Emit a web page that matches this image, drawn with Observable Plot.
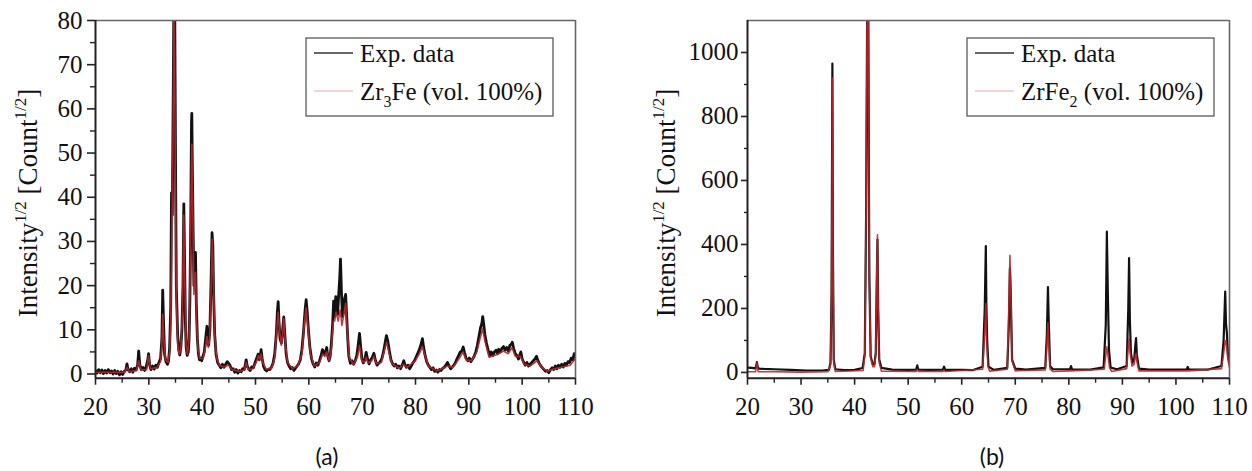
<!DOCTYPE html>
<html>
<head>
<meta charset="utf-8">
<script src="https://cdn.jsdelivr.net/npm/d3@7"></script>
<script src="https://cdn.jsdelivr.net/npm/@observablehq/plot@0.6"></script>
<style>
  html, body { margin: 0; padding: 0; background: #fff; }
  #wrap { position: relative; width: 1252px; height: 471px; overflow: hidden; }
  .panel { position: absolute; top: 0; }
  .panel svg, .panel svg text { font-family: "Liberation Serif", serif !important; }
  .cap { position: absolute; font-family: Lato, "Open Sans", sans-serif; font-size: 23px; color: #111; transform: translate(-50%, -50%); }
</style>
</head>
<body>
<div id="wrap">
  <div class="panel" id="pa" style="left:0px"></div>
  <div class="panel" id="pb" style="left:626px"></div>
  <div class="cap" style="left:327px; top:456px">(a)</div>
  <div class="cap" style="left:992px; top:456px">(b)</div>
</div>
<script>
// ---------- data (2θ, sqrt-intensity) ----------
const xTicks = [20, 30, 40, 50, 60, 70, 80, 90, 100, 110];
const xMinor = [25, 35, 45, 55, 65, 75, 85, 95, 105];
const yTicksA = [0, 10, 20, 30, 40, 50, 60, 70, 80];
const yMinorA = [5, 15, 25, 35, 45, 55, 65, 75];
const yTicksB = [0, 200, 400, 600, 800, 1000];
const yMinorB = [100, 300, 500, 700, 900];

const legendA = ["Exp. data", "Zr", "3", "Fe (vol. 100%)"];
const legendB = ["Exp. data", "ZrFe", "2", " (vol. 100%)"];

// Panel (a): Zr3Fe – experimental
const expA = [
[20.0,0.8],[20.3,0.2],[20.6,1.0],[20.9,0.3],[21.2,0.9],[21.5,0.1],[21.8,0.8],[22.1,0.2],[22.4,1.0],[22.7,0.3],
[23.0,0.7],[23.3,0.0],[23.6,0.8],[23.9,0.1],[24.2,0.6],[24.5,-0.2],[24.8,0.5],[25.1,-0.1],[25.4,0.6],[25.7,0.9],
[25.9,2.3],[26.1,1.0],[26.4,0.5],[26.7,1.2],[27.0,0.4],[27.3,1.3],[27.6,0.9],[27.9,2.0],[28.1,5.2],[28.3,2.2],
[28.6,1.0],[28.9,1.5],[29.2,0.8],[29.5,1.6],[29.8,3.2],[29.95,4.6],[30.15,2.0],[30.4,1.0],[30.7,1.8],[31.0,1.1],
[31.3,2.0],[31.6,1.5],[31.9,2.6],[32.2,3.5],[32.45,8.0],[32.6,19.0],[32.75,12.0],[32.95,4.5],[33.2,2.8],[33.5,2.2],
[33.7,3.0],[33.9,6.0],[34.1,15.0],[34.25,41.0],[34.4,36.0],[34.55,60],[34.7,85],[34.85,85],[35.0,50],[35.15,20],
[35.4,9],[35.6,5.5],[35.8,4.3],[36.0,6.0],[36.2,10],[36.4,20],[36.56,38.5],[36.7,26],[36.85,12],[37.0,6],
[37.2,4.2],[37.4,5.0],[37.55,8],[37.7,17],[37.85,33],[38.0,57],[38.06,59],[38.15,48],[38.3,33],[38.45,20],
[38.6,25],[38.75,27.5],[38.9,16],[39.1,8],[39.3,4.5],[39.5,3.2],[39.7,3.5],[39.9,3.0],[40.1,3.8],[40.4,5],
[40.7,8.5],[40.9,10.8],[41.05,7],[41.2,6.5],[41.45,10],[41.65,20],[41.85,32],[42.0,29],[42.15,18],[42.35,9],
[42.6,4.5],[42.9,2.6],[43.2,2.0],[43.5,1.4],[43.8,2.2],[44.1,1.5],[44.4,2.2],[44.7,2.8],[44.95,2.4],[45.2,2.0],
[45.5,1.0],[45.8,1.2],[46.1,0.4],[46.4,1.0],[46.7,0.2],[47.0,0.8],[47.3,0.5],[47.6,1.2],[47.9,1.0],[48.1,2.2],
[48.25,3.2],[48.45,1.8],[48.7,1.2],[49.0,0.8],[49.3,1.6],[49.6,1.4],[49.9,2.5],[50.2,3.5],[50.5,4.5],[50.7,3.2],
[50.9,4.0],[51.05,5.5],[51.25,3.5],[51.5,1.8],[51.8,1.0],[52.1,0.7],[52.4,1.1],[52.7,1.0],[53.0,1.6],[53.3,2.5],
[53.6,4.5],[53.9,9],[54.1,14],[54.25,16.4],[54.4,12],[54.6,8],[54.85,7],[55.05,9.5],[55.3,12.9],[55.5,9],
[55.75,4.5],[56.0,2.6],[56.3,1.8],[56.6,1.2],[56.9,1.5],[57.2,0.8],[57.5,1.3],[57.8,1.8],[58.1,2.3],[58.4,3.2],
[58.7,5.5],[59.0,9.5],[59.3,14.5],[59.5,16.8],[59.7,14],[59.95,9.5],[60.2,6],[60.5,3.5],[60.8,2.3],[61.1,1.6],
[61.4,2.5],[61.7,2.0],[62.0,3.0],[62.3,4.2],[62.55,5.5],[62.75,5.0],[62.95,4.4],[63.15,5.0],[63.35,6.0],[63.55,4.0],
[63.8,3.0],[64.0,4.0],[64.2,6.5],[64.45,11],[64.65,16.5],[64.85,13],[65.05,17.5],[65.2,15],[65.4,13.5],[65.6,18],
[65.8,22],[65.94,26],[66.1,19],[66.3,13],[66.5,14],[66.7,17],[66.9,18],[67.1,13],[67.3,8],[67.5,4],
[67.8,2.4],[68.1,3.0],[68.4,2.2],[68.7,3.0],[69.0,4.2],[69.25,6.5],[69.5,9.2],[69.7,6.5],[69.95,3.5],[70.2,2.5],
[70.5,3.2],[70.75,4.9],[71.0,3.4],[71.3,2.3],[71.6,3.2],[71.9,3.8],[72.2,4.7],[72.5,3.0],[72.8,2.0],[73.1,2.4],
[73.4,2.8],[73.7,3.5],[74.0,5],[74.3,7],[74.55,8.7],[74.8,7.5],[75.1,5.2],[75.4,3.2],[75.7,2.3],[76.0,1.8],
[76.3,2.2],[76.6,1.4],[76.9,1.8],[77.2,1.2],[77.5,2.0],[77.8,3.0],[78.0,2.2],[78.3,1.5],[78.6,2.0],[78.9,1.2],
[79.2,1.8],[79.5,2.5],[79.8,3.0],[80.1,3.8],[80.4,4.6],[80.7,5.5],[81.0,6.5],[81.3,8.0],[81.5,6.2],[81.8,4.2],
[82.1,2.8],[82.4,2.0],[82.7,1.5],[83.0,1.0],[83.3,1.4],[83.6,0.6],[83.9,0.9],[84.2,0.4],[84.5,1.0],[84.8,0.8],
[85.1,1.3],[85.4,1.5],[85.7,2.0],[86.0,2.6],[86.3,1.8],[86.6,1.2],[86.9,1.6],[87.2,2.0],[87.5,2.6],[87.8,3.5],
[88.1,4.2],[88.4,5.0],[88.7,5.2],[88.95,6.1],[89.2,4.8],[89.5,3.5],[89.8,3.0],[90.1,3.6],[90.4,2.8],[90.7,3.4],
[91.0,4.0],[91.3,5.0],[91.6,6.5],[91.9,8.5],[92.2,10.5],[92.45,11.5],[92.6,13.0],[92.8,11.2],[93.0,9.0],[93.3,7.0],
[93.6,5.5],[93.9,4.2],[94.2,5.0],[94.5,4.2],[94.8,5.0],[95.1,5.4],[95.4,4.6],[95.6,5.6],[95.9,5.0],[96.2,5.8],
[96.5,6.2],[96.8,5.4],[97.1,6.0],[97.4,5.2],[97.7,6.5],[98.0,6.8],[98.15,7.2],[98.4,5.8],[98.7,4.6],[99.0,4.2],
[99.3,3.4],[99.6,4.5],[99.75,5.0],[100.0,3.4],[100.3,2.6],[100.6,2.0],[100.9,2.6],[101.2,1.8],[101.5,2.2],[101.8,2.6],
[102.1,3.0],[102.4,3.4],[102.7,4.0],[102.9,3.2],[103.2,2.4],[103.5,1.8],[103.8,1.4],[104.1,1.0],[104.4,0.6],[104.7,0.8],
[105.0,0.3],[105.3,1.0],[105.6,1.4],[105.9,1.0],[106.2,1.8],[106.5,1.2],[106.8,2.0],[107.1,1.5],[107.4,2.2],[107.7,1.6],
[108.0,2.4],[108.3,2.0],[108.6,2.8],[108.9,2.6],[109.2,3.6],[109.5,3.2],[109.75,4.6],[110.0,4.0]
];

// Panel (a): Zr3Fe – calculated profile
const calcA = [
[20,0.4],[25.5,0.4],[25.9,1.5],[26.3,0.5],[27.7,0.8],[28.1,3.0],[28.5,0.9],[29.6,1.0],[29.95,4.2],[30.3,1.2],
[31.5,1.5],[32.2,2.8],[32.45,7],[32.6,13.5],[32.8,8],[33.1,3.2],[33.6,2.6],[33.9,5],[34.1,12],[34.3,30],
[34.55,55],[34.75,88],[34.95,50],[35.15,18],[35.4,7],[35.7,4.5],[36.0,5.5],[36.3,14],[36.56,36],[36.75,20],
[37.0,6.5],[37.25,4.5],[37.55,8],[37.8,28],[38.06,52],[38.25,36],[38.45,18],[38.6,21],[38.75,23],[38.95,12],
[39.2,5.5],[39.6,3.5],[40.2,3.5],[40.6,6],[40.9,8.5],[41.15,6],[41.4,8],[41.65,18],[41.9,30.5],[42.1,22],
[42.35,9],[42.7,3.8],[43.2,2.0],[44.0,1.6],[44.95,2.0],[45.6,1.0],[47.0,0.6],[47.9,0.9],[48.25,2.6],[48.6,1.0],
[49.5,1.2],[50.2,2.8],[50.55,4.2],[50.8,3.2],[51.05,4.5],[51.4,2.5],[52.0,1.1],[53.0,1.3],[53.6,3.6],[54.0,10],
[54.25,14],[54.5,10],[54.85,6.5],[55.1,9],[55.3,12.5],[55.6,7],[56.0,2.6],[57.0,1.2],[58.0,2.0],[58.7,4.5],
[59.2,12],[59.5,15],[59.8,11],[60.3,4.5],[61.0,1.8],[62.0,2.6],[62.6,4.5],[63.0,4.0],[63.35,5.0],[63.8,3.0],
[64.2,5.5],[64.6,12],[64.85,12],[65.1,14],[65.5,12],[65.9,14.5],[66.2,11],[66.5,13],[66.9,16],[67.2,10],
[67.6,3.5],[68.4,2.2],[69.1,3.8],[69.5,6.5],[69.9,3.2],[70.4,2.5],[70.75,3.8],[71.1,2.5],[71.8,3.0],[72.2,4.0],
[72.7,2.3],[73.6,2.6],[74.2,5.5],[74.6,7.2],[75.0,5.0],[75.6,2.3],[77.0,1.3],[77.8,2.2],[78.4,1.5],[80.0,3.0],
[80.8,4.8],[81.3,6.2],[81.7,4.5],[82.4,1.8],[84.0,0.7],[86.0,1.8],[87.0,1.5],[88.2,3.5],[88.9,5.0],[89.5,3.2],
[90.5,3.0],[91.5,5.0],[92.2,8.5],[92.6,10.2],[93.0,7.5],[93.8,3.8],[94.8,4.2],[95.6,4.6],[96.5,5.2],[97.4,4.6],
[98.1,6.0],[98.7,4.0],[99.7,4.0],[100.4,2.2],[101.5,1.8],[102.8,3.0],[103.6,1.6],[104.7,0.6],[106.0,1.2],[107.5,1.6],
[109.0,2.0],[110,3.5]
];

// Panel (b): ZrFe2 – experimental
const expB = [
[20.0,15],[20.8,14],[21.4,13],[21.6,18],[21.75,32],[21.9,18],[22.1,12],[23,11],[25,10],[28,8],
[31,6],[34,6],[35.2,8],[35.5,30],[35.7,250],[35.85,965],[35.95,400],[36.1,40],[36.4,10],[38,7],
[40,8],[41.5,14],[41.9,60],[42.15,500],[42.35,1150],[42.55,1150],[42.75,300],[43.0,50],[43.4,25],[43.7,25],
[43.95,60],[44.15,300],[44.27,415],[44.4,200],[44.6,40],[45,14],[47,9],[50,8],[51.5,9],[51.7,22],
[51.9,9],[54,8],[56.5,9],[56.7,18],[56.9,8],[60,8],[62,7],[63.9,18],[64.3,200],[64.5,395],
[64.6,215],[64.75,100],[65.0,18],[66,8],[68.5,14],[68.8,150],[69.0,325],[69.15,250],[69.4,40],[70,12],
[72,9],[75.6,14],[75.9,120],[76.1,267],[76.25,160],[76.5,20],[77,10],[80.2,10],[80.4,20],[80.6,10],
[84,9],[86.5,16],[86.9,150],[87.1,440],[87.3,230],[87.5,70],[87.8,15],[89,10],[90.8,20],[91.1,200],
[91.25,357],[91.4,162],[91.6,60],[91.9,30],[92.2,40],[92.45,90],[92.55,107],[92.7,55],[93.1,12],[95,9],
[100,9],[102,10],[102.2,17],[102.4,10],[106,9],[108.5,20],[108.9,100],[109.2,253],[109.35,150],[109.5,126],
[109.7,60],[110,25]
];

// Panel (b): ZrFe2 – calculated profile
const calcB = [
[20,2],[21.5,2],[21.75,30],[22.0,2],[25,2],[30,1],[35,2],[35.5,25],[35.7,230],[35.85,920],
[35.95,380],[36.1,30],[36.4,3],[41.6,6],[41.9,55],[42.15,500],[42.35,1150],[42.55,1150],[42.75,300],[43.0,45],
[43.4,18],[43.7,18],[43.95,60],[44.15,320],[44.27,430],[44.4,200],[44.6,30],[45,4],[51.5,3],[51.7,10],
[51.9,3],[56.5,3],[56.7,8],[56.9,3],[63.9,10],[64.3,120],[64.5,215],[64.65,100],[64.9,20],[65.2,4],
[68.5,10],[68.8,200],[69.0,366],[69.15,260],[69.4,35],[70,5],[75.6,8],[75.9,80],[76.1,155],[76.25,90],
[76.5,10],[77,3],[80.4,5],[86.6,10],[86.95,60],[87.1,80],[87.3,55],[87.6,15],[88,3],[90.8,12],
[91.1,80],[91.25,106],[91.45,60],[91.8,20],[92.2,25],[92.45,55],[92.55,60],[92.75,30],[93.1,5],[102.2,5],
[108.5,12],[108.9,60],[109.2,100],[109.4,90],[109.7,40],[110,15]
];

// ---------- drawing ----------
const SERIF = '"Liberation Serif", serif';
const BLACK = "#111";
const RED = "#b8262a";

function panel(opts) {
  const {el, exp, calc, yDomain, yTicks, yMinor, ml, mr, tickSizeY, padY, legend, lx, labelX, bw} = opts;
  const W = 626, H = 420;
  const svg = Plot.plot({
    width: W, height: H,
    marginLeft: ml, marginRight: mr, marginTop: 20, marginBottom: H - 377.7,
    style: 'font-family: "Liberation Serif", serif; font-size: 25px; color: #111; background: transparent; overflow: visible;',
    x: {domain: [20, 110], label: null},
    y: {domain: yDomain, label: null},
    marks: [
      Plot.line(exp, {x: d => d[0], y: d => d[1], stroke: BLACK, strokeWidth: bw, clip: true, strokeLinejoin: "round"}),
      Plot.line(calc, {x: d => d[0], y: d => d[1], stroke: RED, strokeWidth: 1.6, strokeOpacity: 0.9, clip: true}),
      Plot.ruleY([yDomain[1]], {stroke: "#666", strokeWidth: 1.6}),
      Plot.ruleX([110], {stroke: "#666", strokeWidth: 1.6}),
      Plot.ruleX([20], {stroke: "#222", strokeWidth: 2}),
      Plot.ruleY([yDomain[0]], {stroke: "#222", strokeWidth: 2}),
      Plot.axisX(xTicks, {tickSize: 7, tickPadding: 12, tickFormat: d => String(d), label: null, stroke: "#222", strokeWidth: 1.6}),
      Plot.axisX(xMinor, {tickSize: 5, tickFormat: () => "", label: null, stroke: "#222", strokeWidth: 1.4}),
      Plot.axisY(yTicks, {tickSize: tickSizeY, tickPadding: padY, tickFormat: d => String(d), label: null, stroke: "#222", strokeWidth: 1.6}),
      Plot.axisY(yMinor, {tickSize: tickSizeY - 3, tickFormat: () => "", label: null, stroke: "#222", strokeWidth: 1.4})
    ]
  });
  svg.setAttribute("font-family", SERIF);
  const s = d3.select(svg);
  // y-axis title with superscripts
  const t = s.append("text")
    .attr("transform", `translate(${labelX},203) rotate(-90)`)
    .attr("text-anchor", "middle")
    .attr("font-family", SERIF).attr("font-size", 27).attr("fill", "#111");
  t.append("tspan").text("Intensity");
  t.append("tspan").attr("dy", -11).attr("font-size", 17).text("1/2");
  t.append("tspan").attr("dy", 11).text(" [Count");
  t.append("tspan").attr("dy", -11).attr("font-size", 17).text("1/2");
  t.append("tspan").attr("dy", 11).text("]");
  // legend
  const g = s.append("g").attr("font-family", SERIF).attr("font-size", 25).attr("fill", "#111").attr("text-anchor", "start");
  g.append("rect").attr("x", lx).attr("y", 38).attr("width", 247).attr("height", 78)
    .attr("fill", "#fff").attr("stroke", "#666").attr("stroke-width", 1.4);
  g.append("line").attr("x1", lx + 8).attr("x2", lx + 47).attr("y1", 53).attr("y2", 53).attr("stroke", "#333").attr("stroke-width", 1.6);
  g.append("line").attr("x1", lx + 8).attr("x2", lx + 47).attr("y1", 91).attr("y2", 91).attr("stroke", "#f0c4c6").attr("stroke-width", 1.3);
  g.append("text").attr("x", lx + 54).attr("y", 62).text(legend[0]);
  const t2 = g.append("text").attr("x", lx + 54).attr("y", 100);
  t2.append("tspan").text(legend[1]);
  t2.append("tspan").attr("dy", 7).attr("font-size", 16).text(legend[2]);
  t2.append("tspan").attr("dy", -7).text(legend[3]);
  document.getElementById(el).appendChild(svg);
}

panel({el: "pa", exp: expA, calc: calcA, yDomain: [-0.95, 80], yTicks: yTicksA, yMinor: yMinorA,
       ml: 95, mr: 51, tickSizeY: 8, padY: 5, legend: legendA, lx: 306, labelX: 37, bw: 2.8});
panel({el: "pb", exp: expB, calc: calcB, yDomain: [-18, 1100], yTicks: yTicksB, yMinor: yMinorB,
       ml: 121, mr: 23, tickSizeY: 6, padY: 3, legend: legendB, lx: 341, labelX: 49, bw: 2.2});
</script>
</body>
</html>
